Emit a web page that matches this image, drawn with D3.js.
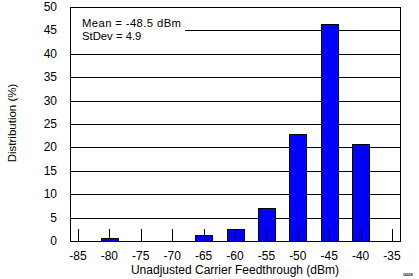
<!DOCTYPE html>
<html><head><meta charset="utf-8">
<script src="https://cdn.jsdelivr.net/npm/d3@7/dist/d3.min.js"></script>
<style>body{margin:0;background:#fff}text{font-family:"Liberation Sans",Arial,sans-serif}</style>
</head><body><svg id="c" width="419" height="279"></svg>
<script>
const categories = [-85, -80, -75, -70, -65, -60, -55, -50, -45, -40, -35];
const distribution = [0, 0.6, 0, 0, 1.2, 2.5, 7.0, 22.9, 46.3, 20.7, 0];
const yTicks = [0, 5, 10, 15, 20, 25, 30, 35, 40, 45, 50];
const legendLines = ["Mean = -48.5 dBm", "StDev = 4.9"];
const xTitle = "Unadjusted Carrier Feedthrough (dBm)";
const yTitle = "Distribution (%)";

const svg = d3.select("#c");
const L = 70, R = 400, T = 7, B = 241;
const x = d3.scaleLinear().domain([-86.27, -33.73]).range([L, R]);
const y = d3.scaleLinear().domain([0, 50]).range([B, T]);

// grid lines
svg.append("g").selectAll("line").data(yTicks.filter(d => d > 0 && d < 50)).join("line")
  .attr("x1", L).attr("x2", R).attr("y1", d => Math.round(y(d)) + 0.5).attr("y2", d => Math.round(y(d)) + 0.5)
  .attr("stroke", "#000").attr("stroke-width", 1);

// legend box (white background hiding grid)
svg.append("rect").attr("x", L + 1).attr("y", 12).attr("width", 114).attr("height", 32).attr("fill", "#fff");
svg.append("g").selectAll("text").data(legendLines).join("text")
  .attr("x", 82).attr("y", (d, i) => 27 + i * 12.5).attr("font-size", 11.3).attr("textLength", (d, i) => i === 0 ? 99 : null).text(d => d);

// bars
const bw = x(-80) - x(-82.65);
svg.append("g").selectAll("rect").data(categories.map((c, i) => ({c, v: distribution[i]})).filter(d => d.v > 0)).join("rect")
  .attr("x", d => Math.round(x(d.c) - bw / 2) + 0.5).attr("width", Math.round(bw))
  .attr("y", d => Math.round(y(d.v)) + 0.5).attr("height", d => B - Math.round(y(d.v)))
  .attr("fill", "#0000ff").attr("stroke", "#000").attr("stroke-width", 1);

// x ticks inside
svg.append("g").selectAll("line").data(categories).join("line")
  .attr("x1", d => Math.round(x(d)) + 0.5).attr("x2", d => Math.round(x(d)) + 0.5)
  .attr("y1", B - 12).attr("y2", B).attr("stroke", "#000");

// frame
svg.append("rect").attr("x", L + 0.5).attr("y", T + 0.5).attr("width", R - L).attr("height", B - T)
  .attr("fill", "none").attr("stroke", "#000").attr("stroke-width", 1);

// y tick labels
svg.append("g").selectAll("text").data(yTicks).join("text")
  .attr("x", 57).attr("y", d => y(d) + 4).attr("text-anchor", "end").attr("font-size", 12).text(d => d);

// x tick labels
svg.append("g").selectAll("text").data(categories).join("text")
  .attr("x", d => x(d)).attr("y", 259.5).attr("text-anchor", "middle").attr("font-size", 12).text(d => d);

// titles
svg.append("text").attr("x", 235).attr("y", 274).attr("text-anchor", "middle").attr("font-size", 12).text(xTitle);
svg.append("text").attr("transform", "translate(16,123) rotate(-90)").attr("text-anchor", "middle").attr("font-size", 11.5).text(yTitle);
svg.append("text").attr("x", 403).attr("y", 276).attr("font-size", 4).attr("font-weight", "bold").text("G009");
</script></body></html>
